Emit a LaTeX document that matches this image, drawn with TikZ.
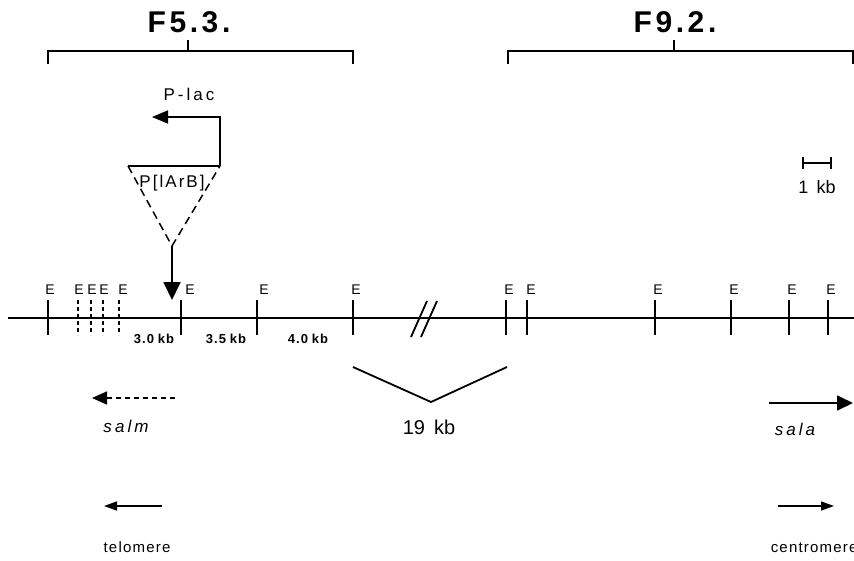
\documentclass[tikz,border=0pt]{standalone}
\usepackage{fontspec}
\setmainfont{Liberation Sans}
\usetikzlibrary{arrows.meta}
\begin{document}
\begin{tikzpicture}[x=1pt,y=-1pt, line width=1.6pt,
  thin line/.style={line width=1.2pt},
  stick/.style={line width=1.8pt},
  dtick/.style={line width=1.5pt, dash pattern=on 4pt off 3pt},
  elab/.style={font=\fontsize{14}{14}\selectfont, inner sep=0pt, anchor=base},
  kblab/.style={font=\bfseries\fontsize{13}{13}\selectfont\addfontfeatures{LetterSpace=8}, inner sep=0pt, anchor=base},
  title/.style={font=\bfseries\fontsize{30}{30}\selectfont\addfontfeatures{LetterSpace=12}, inner sep=0pt, anchor=base},
  lab/.style={font=\fontsize{17}{17}\selectfont\addfontfeatures{LetterSpace=18}, inner sep=0pt, anchor=base},
  ilab/.style={font=\itshape\fontsize{17}{17}\selectfont\addfontfeatures{LetterSpace=18}, inner sep=0pt, anchor=base},
  slab/.style={font=\fontsize{15}{15}\selectfont\addfontfeatures{LetterSpace=8}, inner sep=0pt, anchor=base},
  ]
\useasboundingbox (0,0) rectangle (854,560);

% titles and brackets
\node[title] (f53) at (189,32) {F5.3.};
\node[title] (f92) at (675,32) {F9.2.};
\draw[thin line] (48,64) -- (48,51) -- (353,51) -- (353,64);
\draw[thin line] (188,51) -- (188,40);
\draw[thin line] (508,64) -- (508,51) -- (853,51) -- (853,64);
\draw[thin line] (674,51) -- (674,40);

% P-lac promoter
\node[lab] (plac) at (189,100) {P-lac};
\coordinate (tr) at (220,166);
\coordinate (tl) at (128,166);
\coordinate (tb) at (172,246);
\draw[-{Triangle[length=16pt,width=13pt]}, line width=1.6pt] (tr) -- (220,117) -- (152,117);

% insertion triangle
\draw[thin line] (tl) -- (tr);
\draw[line width=1.5pt, dash pattern=on 8pt off 5pt] (tl) -- (tb) -- (tr);
\node[lab, font=\fontsize{17}{17}\selectfont\addfontfeatures{LetterSpace=12}] (plarb) at (172,187) {P[lArB]};
\draw[-{Triangle[length=18pt,width=17pt]}, line width=1.8pt] (tb) -- (172,300);

% scale bar
\draw[thin line] (803,163) -- (831,163);
\draw[thin line] (803,157) -- (803,169);
\draw[thin line] (831,157) -- (831,169);
\node[lab, font=\fontsize{18}{18}\selectfont] (onekb) at (817,193) {1\hspace{0.45em}kb};

% main line
\coordinate (ls) at (8,318);
\coordinate (le) at (854,318);
\draw[line width=1.8pt] (ls) -- (le);

% solid ticks
\foreach \x in {48,181,257,353,506,527,655,731,789,828}
  \draw[stick] (\x,300) -- (\x,335);
% dashed ticks
\foreach \x in {78,91,103,119}
  \draw[dtick] (\x,300) -- (\x,335);
% E labels
\foreach \x in {50,79,92,104,123,190,264,356,509,531,658,734,792,831}
  \node[elab] at (\x,294) {E};

% kb labels
\node[kblab] (k30) at (154,343) {3.0\hspace{0.3em}kb};
\node[kblab] (k35) at (226,343) {3.5\hspace{0.3em}kb};
\node[kblab] (k40) at (308,343) {4.0\hspace{0.3em}kb};

% break marks
\draw[stick] (411,337) -- (427,301);
\draw[stick] (421,337) -- (437,301);

% 19 kb V
\coordinate (vl) at (353,367);
\coordinate (vb) at (431,402);
\coordinate (vr) at (507,367);
\draw[stick] (vl) -- (vb) -- (vr);
\node[lab, font=\fontsize{20}{20}\selectfont] (kb19) at (429,434) {19\hspace{0.45em}kb};

% salm / sala
\draw[-{Triangle[length=15pt,width=13pt]}, line width=1.6pt, dash pattern=on 5pt off 4pt] (175,398) -- (92,398);
\node[ilab] (salm) at (126,432) {salm};
\draw[-{Triangle[length=16pt,width=15pt]}, line width=1.8pt] (769,403) -- (853,403);
\node[ilab] (sala) at (795,435) {sala};

% telomere / centromere
\draw[-{Triangle[length=13pt,width=9pt]}, line width=1.6pt] (162,506) -- (104,506);
\node[slab] (telo) at (137,552) {telomere};
\draw[-{Triangle[length=13pt,width=9pt]}, line width=1.6pt] (778,506) -- (834,506);
\node[slab, anchor=base west] (centro) at (770,552) {centromere};
\end{tikzpicture}
\end{document}
